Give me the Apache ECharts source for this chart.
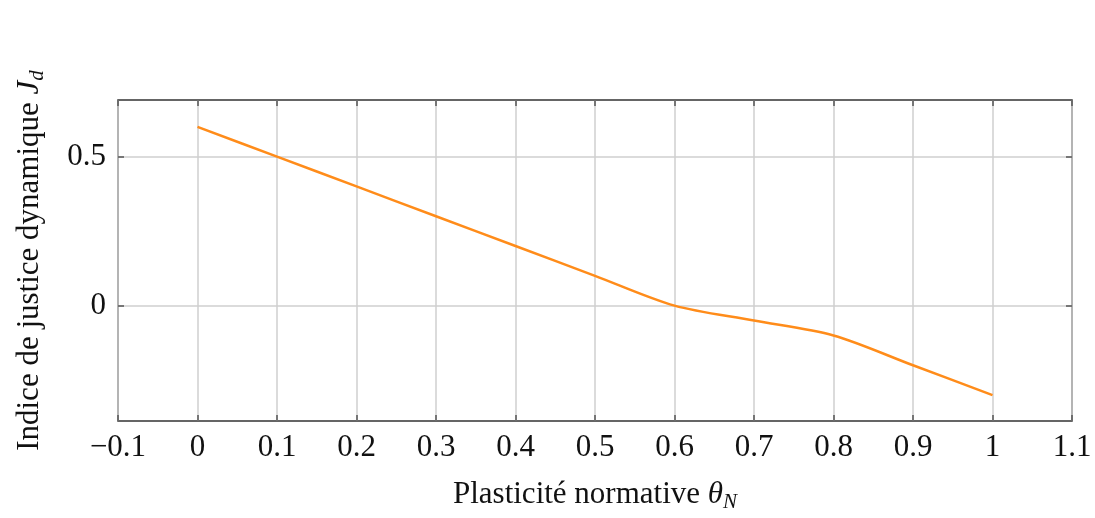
<!DOCTYPE html>
<html>
<head>
<meta charset="utf-8">
<script src="https://cdn.jsdelivr.net/npm/echarts@6/dist/echarts.min.js"></script>
<style>
  html, body { margin: 0; padding: 0; background: #fff; }
  #chart { width: 1095px; height: 518px; }
</style>
</head>
<body>
<div id="chart"></div>
<script>
// plasticité normative (x) et indice de justice dynamique (y)
const theta = [0, 0.1, 0.2, 0.3, 0.4, 0.5, 0.6, 0.7, 0.8, 0.9, 1]
const justice = [0.6, 0.5, 0.4, 0.3, 0.2, 0.1, 0, -0.05, -0.1, -0.2, -0.3]
const yTicks = [0, 0.5]

const font = 'Liberation Serif'
const size = 31
const fmt = (v) => {
  let s = String(Math.round(v * 10) / 10)
  return s.replace('-', '\u2212')
}

const tick = { show: true, inside: true, length: 6, lineStyle: { color: '#555', width: 1.5 } }
const titleRich = {
  t: { fontFamily: font, fontSize: size, color: '#111' },
  i: { fontFamily: font, fontSize: size, fontStyle: 'italic', color: '#111' },
  s: { fontFamily: font, fontSize: 21, fontStyle: 'italic', color: '#111', padding: [15, 0, 0, 0] }
}

const chart = echarts.init(document.getElementById('chart'))

chart.setOption({
  animation: false,
  grid: {
    left: 118, right: 23, top: 100, bottom: 95,
    show: true, borderColor: '#333', borderWidth: 1.5
  },
  xAxis: [
    {
      type: 'value', min: -0.1, max: 1.1, interval: 0.1,
      axisLine: { show: false, onZero: false },
      axisTick: tick,
      axisLabel: { fontFamily: font, fontSize: size, color: '#111', margin: 11, formatter: fmt },
      splitLine: { show: true, lineStyle: { color: '#cfcfcf', width: 1.5 } },
      name: '{t|Plasticité normative }{i|θ}{s|N}',
      nameLocation: 'middle', nameGap: 56,
      nameTextStyle: { rich: titleRich }
    },
    {
      type: 'value', min: -0.1, max: 1.1, interval: 0.1, position: 'top',
      axisLine: { show: false, onZero: false },
      axisTick: tick,
      axisLabel: { show: false },
      splitLine: { show: false }
    }
  ],
  yAxis: [
    {
      type: 'value', min: -0.387, max: 0.69,
      axisLine: { show: false, onZero: false },
      axisTick: { ...tick, customValues: yTicks },
      axisLabel: { fontFamily: font, fontSize: size, color: '#111', margin: 12, customValues: yTicks, formatter: fmt },
      splitLine: { show: true, lineStyle: { color: '#cfcfcf', width: 1.5 } },
      name: '{t|Indice de justice dynamique }{i|J}{s|d}',
      nameLocation: 'middle', nameGap: 70,
      nameTextStyle: { rich: titleRich }
    },
    {
      type: 'value', min: -0.387, max: 0.69, position: 'right',
      axisLine: { show: false, onZero: false },
      axisTick: { ...tick, customValues: yTicks },
      axisLabel: { show: false, customValues: yTicks },
      splitLine: { show: false }
    }
  ],
  series: [
    {
      type: 'line',
      data: theta.map((t, i) => [t, justice[i]]),
      smooth: 0.3,
      showSymbol: false,
      lineStyle: { color: '#ff8c1a', width: 2.5 }
    }
  ]
})
</script>
</body>
</html>
